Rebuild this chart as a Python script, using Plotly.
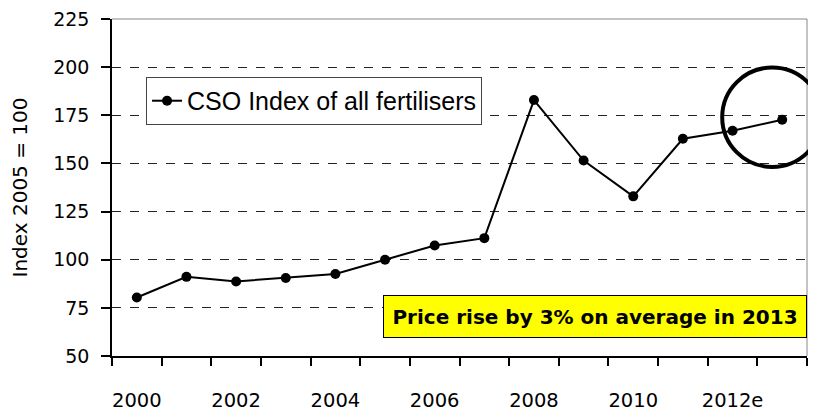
import plotly.graph_objects as go

years = [str(y) for y in range(2000, 2014)]
index_values = [80.4, 91.1, 88.7, 90.5, 92.6, 100.0, 107.4, 111.2, 182.9, 151.5, 132.9, 162.8, 167.0, 172.7]
tick_labels = ["2000", "", "2002", "", "2004", "", "2006", "", "2008", "", "2010", "", "2012e", ""]
series_name = "CSO Index of all fertilisers"
note_text = "Price rise by 3% on average in 2013"
y_title = "Index 2005 = 100"

fig = go.Figure()
fig.add_trace(go.Scatter(
    x=years, y=index_values, mode="lines+markers", name=series_name,
    line=dict(color="black", width=2),
    marker=dict(color="black", size=10),
))

# page body adds an 8px margin, so the figure is 808x407 placed at (8, 8)
fig.update_layout(
    width=808, height=407,
    margin=dict(l=104, r=9, t=11, b=59),
    plot_bgcolor="white", paper_bgcolor="white",
    showlegend=True,
    legend=dict(
        x=0.049, y=0.828, xanchor="left", yanchor="top",
        bordercolor="#444", borderwidth=1, bgcolor="white",
        font=dict(family="Liberation Sans, Arial", size=25, color="black"),
        itemwidth=30, tracegroupgap=0,
    ),
    font=dict(family="DejaVu Sans, sans-serif", color="black"),
)

fig.update_xaxes(
    type="category", range=[-0.5, 13.5],
    tickmode="array", tickvals=years, ticktext=tick_labels,
    tickson="boundaries", tickangle=0, automargin=False,
    ticks="outside", ticklen=8, tickwidth=1.5, tickcolor="black",
    showline=True, linecolor="black", linewidth=1.5,
    showgrid=False,
    tickfont=dict(family="DejaVu Sans, sans-serif", size=19.5, color="black"),
    ticklabelstandoff=26, ticklabeloverflow="allow",
)
fig.update_yaxes(
    range=[50, 225], tickmode="linear", tick0=50, dtick=25,
    automargin=False,
    ticks="outside", ticklen=9, tickwidth=1.5, tickcolor="black",
    showline=True, linecolor="black", linewidth=1.5,
    showgrid=True, gridcolor="#222", gridwidth=1, griddash="dash",
    zeroline=False,
    tickfont=dict(family="DejaVu Sans, sans-serif", size=19, color="black"),
    ticklabelstandoff=8, ticklabeloverflow="allow",
    title=dict(text=y_title, font=dict(family="DejaVu Sans, sans-serif", size=20, color="black"), standoff=23),
)

# plot-area top/right border
fig.add_shape(type="line", xref="paper", yref="paper", x0=0, x1=1, y0=1, y1=1,
              line=dict(color="#888", width=1))
fig.add_shape(type="line", xref="paper", yref="paper", x0=1, x1=1, y0=0, y1=1,
              line=dict(color="#888", width=1))

# highlight circle around the 2013 estimate
fig.add_shape(type="circle", xref="paper", yref="paper",
              x0=0.878, x1=1.022, y0=0.561, y1=0.856,
              line=dict(color="black", width=4))

fig.add_annotation(
    text="<b>" + note_text + "</b>", xref="paper", yref="paper",
    x=1, y=0.181, xanchor="right", yanchor="top", showarrow=False,
    bgcolor="#ffff00", bordercolor="black", borderwidth=1, borderpad=2,
    width=418, height=37,
    font=dict(family="DejaVu Sans, Verdana", size=20, color="black"),
)

fig.write_html("out.html")
